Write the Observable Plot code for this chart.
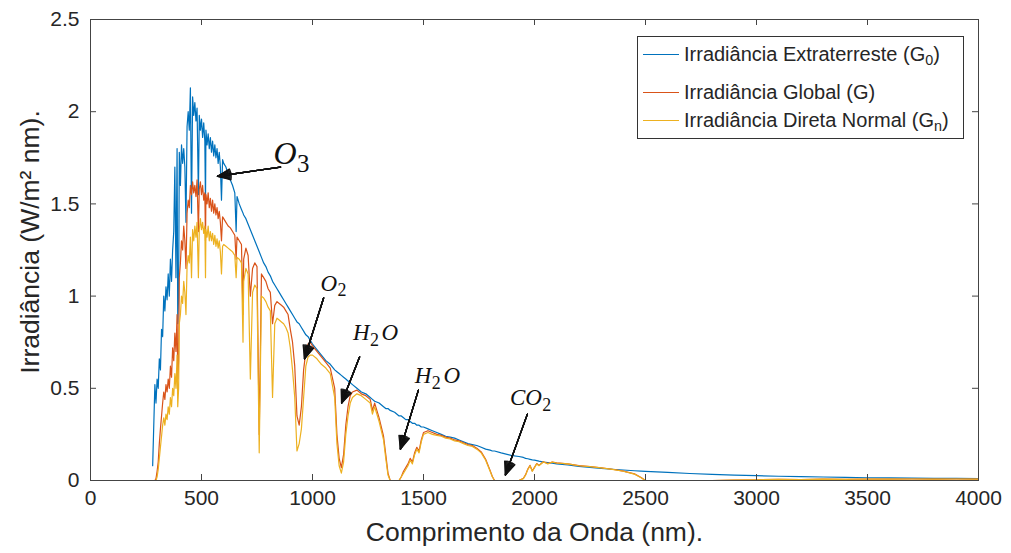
<!DOCTYPE html>
<html><head><meta charset="utf-8">
<script src="https://cdn.jsdelivr.net/npm/d3@7"></script>
<script src="https://cdn.jsdelivr.net/npm/@observablehq/plot@0.6"></script>
<style>
body{margin:0;background:#fff;}
#wrap{position:relative;width:1011px;height:553px;overflow:hidden;}
#legend{position:absolute;left:637px;top:36px;width:327px;height:103px;border:1px solid #333;background:#fff;box-sizing:border-box;font-family:"Liberation Sans",Arial,sans-serif;font-size:20px;color:#262626;}
.row{position:absolute;left:0;height:24px;display:flex;align-items:center;white-space:nowrap;}
.sw{display:inline-block;width:36px;height:0;border-top:1.4px solid;margin-left:5px;margin-right:5px;}
.row sub{font-size:0.72em;position:relative;top:0.3em;line-height:0;vertical-align:baseline;}
</style></head><body><div id="wrap"></div>
<script>
// ---- Data ----
const wavelength = [
  280,285,290,295,300,305,310,315,320,325,
  330,335,340,345,350,355,360,365,370,375,
  380,385,390,393,397,400,405,410,415,420,
  425,430,435,440,445,450,455,460,465,470,
  475,480,486,490,495,500,505,510,515,518,
  520,525,530,535,540,545,550,555,560,565,
  570,575,580,585,590,595,600,610,620,630,
  640,650,656,660,670,680,687,690,700,710,
  720,730,740,750,760,770,780,790,800,810,
  820,830,840,850,860,870,880,890,900,910,
  920,930,940,950,960,970,980,990,1000,1020,
  1040,1060,1080,1100,1110,1120,1130,1140,1150,1160,
  1170,1180,1200,1220,1240,1260,1270,1280,1300,1320,
  1330,1340,1350,1370,1390,1400,1410,1420,1430,1440,
  1450,1460,1470,1480,1490,1500,1520,1540,1560,1580,
  1600,1620,1640,1660,1680,1700,1720,1740,1760,1780,
  1800,1810,1820,1850,1900,1930,1950,1960,1970,1980,
  1990,2000,2010,2020,2040,2060,2080,2100,2150,2200,
  2250,2300,2350,2400,2450,2480,2500,2600,2700,2800,
  2900,3000,3100,3200,3300,3400,3500,3600,3700,3800,
  3900,4000
];
const extraterrestrial = [
  0.08,0.30,0.52,0.42,0.55,0.50,0.66,0.60,0.82,0.78,
  1.00,0.92,1.05,0.98,1.12,1.00,1.20,1.08,1.25,1.35,
  1.70,1.10,1.80,0.85,1.00,1.78,1.60,1.82,1.72,1.80,
  1.70,1.40,1.92,2.00,1.90,2.13,1.45,2.08,1.98,2.05,
  1.95,2.02,1.55,1.98,1.90,1.96,1.86,1.94,1.84,1.50,
  1.90,1.82,1.88,1.80,1.86,1.78,1.84,1.76,1.82,1.75,
  1.80,1.72,1.78,1.70,1.52,1.74,1.72,1.70,1.66,1.63,
  1.60,1.56,1.35,1.54,1.50,1.47,1.45,1.44,1.42,1.39,
  1.36,1.33,1.30,1.27,1.24,1.21,1.18,1.16,1.13,1.11,
  1.08,1.06,1.04,1.02,1.00,0.98,0.96,0.94,0.92,0.90,
  0.88,0.86,0.85,0.83,0.81,0.79,0.78,0.76,0.74,0.71,
  0.68,0.65,0.63,0.60,0.59,0.58,0.57,0.56,0.55,0.54,
  0.53,0.52,0.50,0.48,0.47,0.45,0.44,0.43,0.42,0.40,
  0.39,0.39,0.38,0.37,0.35,0.35,0.34,0.33,0.33,0.32,
  0.31,0.31,0.30,0.30,0.29,0.29,0.28,0.27,0.26,0.25,
  0.24,0.235,0.23,0.22,0.21,0.20,0.195,0.19,0.18,0.17,
  0.165,0.16,0.16,0.15,0.135,0.13,0.125,0.12,0.118,0.115,
  0.112,0.11,0.108,0.105,0.10,0.097,0.094,0.09,0.084,0.077,
  0.071,0.066,0.061,0.057,0.053,0.051,0.05,0.044,0.038,0.033,
  0.029,0.026,0.023,0.021,0.019,0.017,0.015,0.014,0.013,0.012,
  0.011,0.010
];
const globalIrr = [
  0,0,0,0.01,0.05,0.10,0.20,0.28,0.35,0.42,
  0.48,0.44,0.52,0.48,0.55,0.50,0.62,0.56,0.72,0.65,
  0.80,0.70,0.90,0.55,0.65,1.10,1.18,1.30,1.25,1.38,
  1.30,1.15,1.45,1.52,1.48,1.60,1.55,1.62,1.56,1.60,
  1.54,1.63,1.35,1.58,1.62,1.55,1.60,1.52,1.56,1.30,
  1.55,1.50,1.56,1.48,1.53,1.46,1.52,1.45,1.50,1.44,
  1.48,1.42,1.46,1.40,1.30,1.43,1.42,1.40,1.38,1.37,
  1.35,1.33,1.20,1.32,1.30,1.28,0.90,1.20,1.26,1.22,
  1.00,1.15,1.18,1.16,0.25,1.12,1.10,1.08,1.04,1.02,
  0.85,0.95,0.97,0.96,0.95,0.94,0.92,0.90,0.82,0.75,
  0.62,0.35,0.30,0.40,0.60,0.70,0.74,0.75,0.73,0.70,
  0.67,0.64,0.61,0.50,0.25,0.12,0.07,0.14,0.30,0.40,
  0.46,0.48,0.49,0.47,0.46,0.44,0.38,0.42,0.34,0.24,
  0.14,0.04,0,0,0,0.02,0.05,0.07,0.09,0.12,
  0.10,0.15,0.18,0.16,0.22,0.26,0.27,0.26,0.25,0.245,
  0.235,0.23,0.22,0.215,0.205,0.195,0.19,0.175,0.155,0.115,
  0.055,0.022,0,0,0,0,0.012,0.032,0.062,0.082,
  0.052,0.072,0.092,0.082,0.102,0.092,0.10,0.096,0.09,0.081,
  0.076,0.069,0.061,0.051,0.036,0.016,0,0,0,0,
  0.002,0.004,0.006,0.005,0.007,0.006,0.008,0.007,0.008,0.007,
  0.008,0.007
];
const directNormal = [
  0,0,0,0,0.02,0.06,0.12,0.18,0.24,0.30,
  0.34,0.30,0.36,0.33,0.40,0.36,0.45,0.40,0.50,0.46,
  0.58,0.50,0.68,0.40,0.50,0.85,0.90,1.00,0.96,1.08,
  1.02,0.90,1.16,1.22,1.18,1.32,1.10,1.36,1.30,1.38,
  1.32,1.40,1.10,1.36,1.42,1.36,1.40,1.34,1.38,1.10,
  1.36,1.32,1.38,1.30,1.35,1.30,1.34,1.28,1.33,1.27,
  1.31,1.26,1.30,1.24,1.12,1.27,1.28,1.27,1.26,1.25,
  1.24,1.22,1.10,1.21,1.20,1.18,0.75,1.08,1.15,1.12,
  0.55,1.02,1.06,1.04,0.15,1.00,0.99,0.97,0.94,0.92,
  0.45,0.85,0.88,0.87,0.86,0.85,0.83,0.80,0.72,0.60,
  0.45,0.16,0.20,0.28,0.45,0.62,0.67,0.68,0.68,0.66,
  0.63,0.61,0.58,0.45,0.20,0.08,0.04,0.10,0.25,0.35,
  0.42,0.45,0.47,0.46,0.44,0.42,0.36,0.40,0.32,0.22,
  0.12,0.03,0,0,0,0.02,0.04,0.06,0.08,0.11,
  0.09,0.14,0.17,0.15,0.21,0.25,0.26,0.25,0.245,0.24,
  0.23,0.225,0.215,0.21,0.20,0.19,0.185,0.17,0.15,0.11,
  0.05,0.02,0,0,0,0,0.01,0.03,0.06,0.08,
  0.05,0.07,0.09,0.08,0.10,0.09,0.10,0.095,0.09,0.08,
  0.075,0.068,0.06,0.05,0.035,0.015,0,0,0,0,
  0.002,0.004,0.006,0.005,0.007,0.006,0.008,0.007,0.008,0.007,
  0.008,0.007
];
const xTicks = [0,500,1000,1500,2000,2500,3000,3500,4000];
const yTicks = [0,0.5,1,1.5,2,2.5];
const seriesBase = ["Irradiância Extraterreste (G","Irradiância Global (G","Irradiância Direta Normal (G"];
const seriesSub = ["0","","n"];
const seriesColors = ["#0072BD","#D95319","#EDB120"];
const xTitle = "Comprimento da Onda (nm).";
const yTitle = "Irradiância (W/m² nm).";
// annotations (data units): letters, subscript digits kept apart
const annotParts = [["O","3",""],["O","2",""],["H","2","O"],["H","2","O"],["CO","2",""]];
const annotLabelX = [905,1095,1284,1563,1982];
const annotLabelY = [1.77,1.07,0.80,0.57,0.45];
const annotTailX = [856,1050,1212,1477,1968];
const annotTailY = [1.70,0.99,0.67,0.49,0.36];
const annotTipX = [572,964,1131,1396,1869];
const annotTipY = [1.65,0.66,0.42,0.17,0.03];

// ---- Build ----
const rows = wavelength.map((w,i)=>({w, g0: extraterrestrial[i], g: globalIrr[i], gn: directNormal[i]}));
const annots = annotParts.map((p,i)=>({t: p.join(""), parts: p, lx: annotLabelX[i], ly: annotLabelY[i], x1: annotTailX[i], y1: annotTailY[i], x2: annotTipX[i], y2: annotTipY[i]}));

const W = 1011, H = 553, mL = 90, mR = 33, mT = 19, mB = 73;
const innerW = W - mL - mR, innerH = H - mT - mB;
const axisColor = "#444";
const textColor = "#262626";
const sans = "'Liberation Sans', Arial, Helvetica, sans-serif";
const serif = "'Liberation Serif', 'Times New Roman', serif";
const tickLen = 6;

const marks = [
  Plot.line(rows, {x: "w", y: "g0", stroke: seriesColors[0], strokeWidth: 1.2}),
  Plot.line(rows, {x: "w", y: "g", stroke: seriesColors[1], strokeWidth: 1.2}),
  Plot.line(rows, {x: "w", y: "gn", stroke: seriesColors[2], strokeWidth: 1.2}),
  Plot.frame({stroke: axisColor, strokeWidth: 1}),
  Plot.tickX(xTicks, {x: d => d, insetTop: innerH - tickLen, stroke: axisColor}),
  Plot.tickX(xTicks, {x: d => d, insetBottom: innerH - tickLen, stroke: axisColor}),
  Plot.tickY(yTicks, {y: d => d, insetRight: innerW - tickLen, stroke: axisColor}),
  Plot.tickY(yTicks, {y: d => d, insetLeft: innerW - tickLen, stroke: axisColor}),
  Plot.axisX({ticks: xTicks, tickSize: 0, tickPadding: 10, label: null, fontSize: 21, color: textColor, tickFormat: d => String(d)}),
  Plot.axisY({ticks: yTicks, tickSize: 0, tickPadding: 11, label: null, fontSize: 21, color: textColor, tickFormat: d => String(d)}),
  Plot.text([xTitle], {frameAnchor: "bottom", dy: 60, fontSize: 26.5, fill: textColor, fontFamily: sans}),
  Plot.text([yTitle], {frameAnchor: "left", textAnchor: "middle", rotate: -90, dx: -60, dy: -8, fontSize: 26.5, fill: textColor, fontFamily: sans})
];
for (const a of [0, 8, 16, 24, 32, 40, 46]) {
  marks.push(Plot.arrow(annots, {x1: "x1", y1: "y1", x2: "x2", y2: "y2", stroke: "#111", strokeWidth: 1.3, headAngle: a, headLength: 16}));
}
marks.push(Plot.text(annots.slice(0,1), {x: "lx", y: "ly", text: "t", fontSize: 32, fontFamily: serif, fill: "#111", className: "annot"}));
marks.push(Plot.text(annots.slice(1), {x: "lx", y: "ly", text: "t", fontSize: 23, fontFamily: serif, fill: "#111", className: "annot"}));

const chart = Plot.plot({
  width: W, height: H,
  marginLeft: mL, marginRight: mR, marginTop: mT, marginBottom: mB,
  x: {domain: [0, 4000]},
  y: {domain: [0, 2.5]},
  style: {fontFamily: sans, background: "#fff", color: textColor, overflow: "visible"},
  marks
});
const wrap = document.getElementById("wrap");
wrap.appendChild(chart);

// rebuild annotation texts with italic letters and upright subscript digits
const byText = new Map(annots.map(a => [a.t, a.parts]));
chart.querySelectorAll("g.annot text, .annot text").forEach(el => {
  const parts = byText.get(el.textContent);
  if (!parts) return;
  el.textContent = "";
  const ns = "http://www.w3.org/2000/svg";
  const [a, sub, b] = parts;
  const t1 = document.createElementNS(ns, "tspan"); t1.textContent = a; t1.setAttribute("font-style", "italic"); el.appendChild(t1);
  const t2 = document.createElementNS(ns, "tspan"); t2.textContent = sub; t2.setAttribute("font-size", "78%"); t2.setAttribute("dy", "0.32em"); t2.setAttribute("dx", "0.02em"); el.appendChild(t2);
  if (b) {
    const t3 = document.createElementNS(ns, "tspan"); t3.textContent = b; t3.setAttribute("font-style", "italic"); t3.setAttribute("dy", "-0.25em"); t3.setAttribute("dx", "0.12em"); el.appendChild(t3);
  }
});

// legend (HTML overlay inside the axes)
const legend = document.createElement("div");
legend.id = "legend";
const rowTops = [5, 43, 71];
seriesBase.forEach((b, i) => {
  const r = document.createElement("div");
  r.className = "row";
  r.style.top = rowTops[i] + "px";
  const sw = document.createElement("span");
  sw.className = "sw";
  sw.style.borderColor = seriesColors[i];
  r.appendChild(sw);
  const t = document.createElement("span");
  t.append(b);
  if (seriesSub[i]) { const s = document.createElement("sub"); s.textContent = seriesSub[i]; t.appendChild(s); }
  t.append(")");
  r.appendChild(t);
  legend.appendChild(r);
});
wrap.appendChild(legend);
</script></body></html>
